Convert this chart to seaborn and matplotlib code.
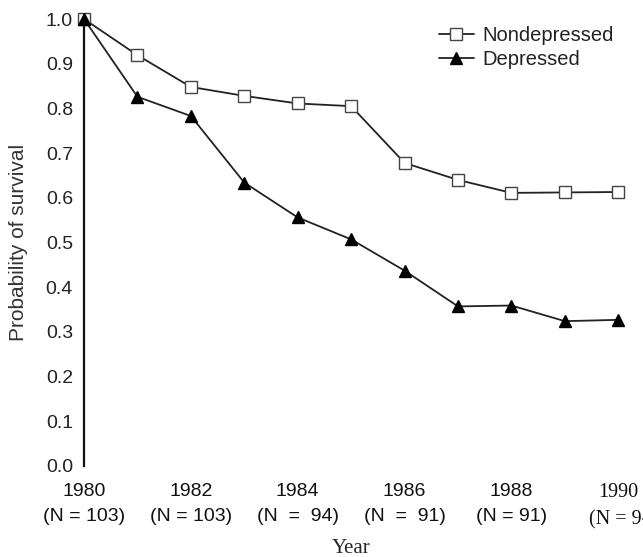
import numpy as np
import pandas as pd
import matplotlib
matplotlib.use("Agg")
import matplotlib.pyplot as plt
import seaborn as sns

years = [1980, 1981, 1982, 1983, 1984, 1985, 1986, 1987, 1988, 1989, 1990]
nondepressed = [1.0, 0.919, 0.848, 0.828, 0.811, 0.805, 0.678, 0.640, 0.611, 0.612, 0.613]
depressed = [1.0, 0.826, 0.783, 0.634, 0.556, 0.507, 0.437, 0.357, 0.359, 0.324, 0.327]
tick_years = [1980, 1982, 1984, 1986, 1988, 1990]
tick_labels = ["1980\n(N = 103)", "1982\n(N = 103)", "1984\n(N  =  94)",
               "1986\n(N  =  91)", "1988\n(N = 91)", "1990\n(N = 9-"]
y_ticks = [0.0, 0.1, 0.2, 0.3, 0.4, 0.5, 0.6, 0.7, 0.8, 0.9, 1.0]

sns.set_theme(style="white")
plt.rcParams['font.family'] = ['Liberation Sans', 'DejaVu Sans']

fig = plt.figure(figsize=(6.43, 5.57), dpi=100)
ax = fig.add_axes([84/643, 1-466/557, (629-84)/643, (466-19)/557])

line_col = "#222222"
sns.lineplot(x=years, y=nondepressed, ax=ax, color=line_col, lw=1.3,
             marker="s", markersize=8, markerfacecolor="white",
             markeredgecolor="#444444", markeredgewidth=1.0,
             label="Nondepressed", clip_on=False, zorder=3)
sns.lineplot(x=years, y=depressed, ax=ax, color=line_col, lw=1.3,
             marker="^", markersize=8, markerfacecolor="black",
             markeredgecolor="black", markeredgewidth=1.0,
             label="Depressed", clip_on=False, zorder=3)

ax.set_xlim(1980, 1990.2)
ax.set_ylim(0, 1.0)

ax.set_yticks(y_ticks)
ax.set_yticklabels([f"{v:.1f}" for v in y_ticks])
ax.set_xticks(tick_years)
ax.set_xticklabels(tick_labels)

for s in ["top", "right", "bottom"]:
    ax.spines[s].set_visible(False)
ax.spines["left"].set_linewidth(1.6)
ax.spines["left"].set_color("#111111")

ax.tick_params(axis="y", direction="in", length=6, width=1.2, color="#222222",
               pad=8, labelsize=14, labelcolor="#222222")
ax.tick_params(axis="x", direction="in", length=5, width=1.0, color="#999999",
               pad=12.5, labelsize=14, labelcolor="#111111")
for lbl in ax.get_xticklabels():
    lbl.set_linespacing(1.55)
    if lbl.get_text().startswith("1990"):
        lbl.set_fontfamily("Liberation Serif")
        lbl.set_fontsize(14.5)

ax.set_ylabel("Probability of survival", fontsize=15, color="#333333")
ax.yaxis.set_label_coords(-0.103, 0.5)
ax.set_xlabel("Year", fontsize=15, family="Liberation Serif")
ax.xaxis.set_label_coords(0.49, -0.163)

leg = ax.legend(loc="upper right", bbox_to_anchor=(614/643, 1-26/557),
                bbox_transform=fig.transFigure, frameon=False,
                prop={"family": "Liberation Sans", "size": 14.5},
                handlelength=1.7, handletextpad=0.45, labelspacing=0.25,
                borderpad=0, borderaxespad=0)
for t in leg.get_texts():
    t.set_color("#222222")

ax.grid(False)
fig.savefig("out.png", dpi=100)
